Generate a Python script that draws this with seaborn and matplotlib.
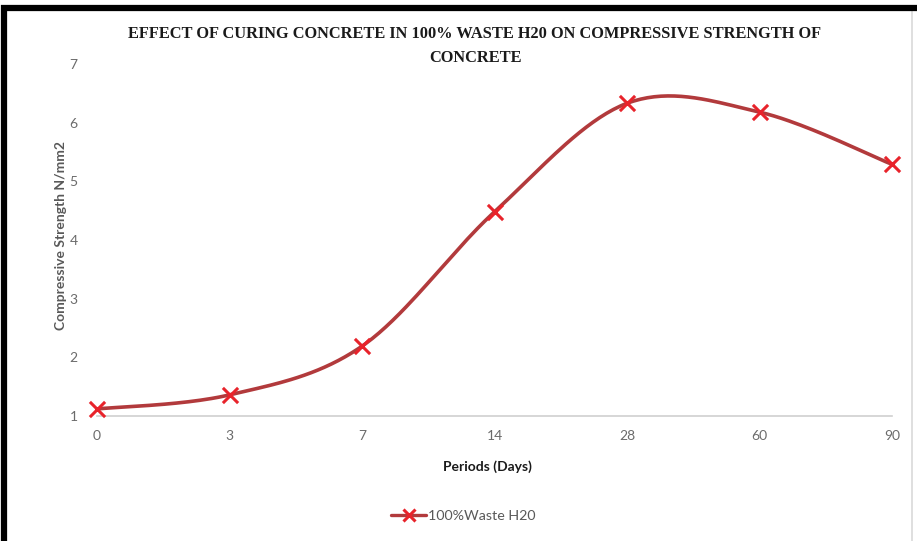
import numpy as np
import pandas as pd
import matplotlib
matplotlib.use("Agg")
import matplotlib.pyplot as plt
import seaborn as sns
from matplotlib.lines import Line2D
from matplotlib.patches import Rectangle

# ---- data ----
periods = ["0", "3", "7", "14", "28", "60", "90"]
strength = [1.12, 1.36, 2.19, 4.48, 6.33, 6.18, 5.29]
series_name = "100%Waste H20"
title = "EFFECT OF CURING CONCRETE IN 100% WASTE H20 ON COMPRESSIVE STRENGTH OF\nCONCRETE"
xlabel = "Periods (Days)"
ylabel = "Compressive Strength N/mm2"
yticks = [1, 2, 3, 4, 5, 6, 7]

LINE_C = "#B23A3C"
MARK_C = "#E8232B"
TICK_C = "#6B6B6B"


def smooth_curve(xs, ys, n=40):
    """Excel-style smoothed line (Catmull-Rom as cubic Bezier)."""
    P = np.column_stack([xs, ys]).astype(float)
    ext = np.vstack([P[0], P, P[-1]])
    out = []
    t = np.linspace(0, 1, n)[:, None]
    for i in range(len(P) - 1):
        p0, p1, p2, p3 = ext[i], ext[i + 1], ext[i + 2], ext[i + 3]
        c1 = p1 + (p2 - p0) / 6.0
        c2 = p2 - (p3 - p1) / 6.0
        seg = ((1 - t) ** 3) * p1 + 3 * ((1 - t) ** 2) * t * c1 + 3 * (1 - t) * t ** 2 * c2 + t ** 3 * p2
        out.append(seg if i == 0 else seg[1:])
    arr = np.vstack(out)
    return arr[:, 0], arr[:, 1]


sns.set_theme(style="white")
plt.rcParams["font.family"] = ["Lato", "DejaVu Sans"]

fig = plt.figure(figsize=(9.17, 5.41), dpi=100)
ax = fig.add_axes([97 / 917, 1 - 416 / 541, (892 - 97) / 917, (416 - 64) / 541])

xpos = np.arange(len(periods))
df = pd.DataFrame({"pos": xpos, "strength": strength})
cx, cy = smooth_curve(df["pos"].values, df["strength"].values)
curve = pd.DataFrame({"x": cx, "y": cy})

sns.lineplot(data=curve, x="x", y="y", sort=False, color=LINE_C, linewidth=2.6,
             ax=ax, legend=False, clip_on=False)
sns.scatterplot(data=df, x="pos", y="strength", marker="x", s=120, color=MARK_C,
                linewidth=2.2, ax=ax, legend=False, zorder=5, clip_on=False)

ax.set_xlim(0, len(periods) - 1)
ax.set_ylim(1, 7)
ax.set_xticks(xpos)
ax.set_xticklabels(periods)
ax.set_yticks(yticks)
ax.tick_params(axis="x", colors="#BFBFBF", length=4, width=1, direction="out",
               labelcolor=TICK_C, labelsize=10, pad=6)
ax.tick_params(axis="y", length=0, labelcolor=TICK_C, labelsize=10, pad=14)
for s in ["top", "right", "left"]:
    ax.spines[s].set_visible(False)
ax.spines["bottom"].set_color("#D0D0D0")
ax.spines["bottom"].set_linewidth(1.2)
ax.grid(False)
ax.set_xlabel("")
ax.set_ylabel("")

fig.text(487 / 917, 1 - 467 / 541, xlabel, ha="center", va="center",
         fontsize=10, fontweight="bold", color="#1A1A1A")
fig.text(61 / 917, 1 - 236 / 541, ylabel, ha="center", va="center", rotation=90,
         fontsize=10, fontweight="bold", color="#595959")
fig.text(475 / 917, 1 - 46 / 541, title, ha="center", va="center",
         fontsize=11.8, fontweight="bold", color="#1A1A1A",
         family=["Liberation Serif", "DejaVu Serif"], linespacing=1.75)

handle = Line2D([0], [0], color=LINE_C, linewidth=2.4, marker="x",
                markersize=9, markeredgewidth=2.2, markeredgecolor=MARK_C)
fig.legend([handle], [series_name], loc="center", bbox_to_anchor=(463 / 917, 1 - 516 / 541),
           frameon=False, fontsize=10.3, labelcolor="#595959", handlelength=2.5,
           handletextpad=0.1)

# outer frame
fig.patches.append(Rectangle((4 / 917, -0.05), 1.2, 1 - 7.5 / 541 + 0.05, transform=fig.transFigure,
                             fill=False, edgecolor="black", linewidth=4.5, zorder=10))
fig.lines.append(Line2D([911.5 / 917, 911.5 / 917], [0, 1 - 10 / 541], transform=fig.transFigure,
                        color="#D9D9D9", linewidth=1.2))

fig.savefig("out.png", dpi=100)
